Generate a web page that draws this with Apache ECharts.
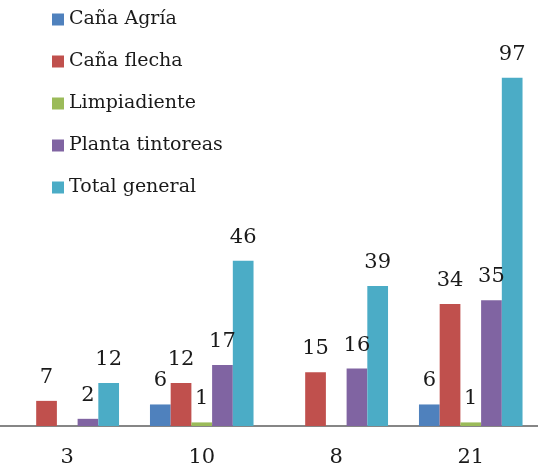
<!DOCTYPE html>
<html><head><meta charset="utf-8">
<script src="https://cdn.jsdelivr.net/npm/echarts@6/dist/echarts.min.js"></script>
<style>html,body{margin:0;padding:0;background:#fff}#c{width:538px;height:470px}</style>
</head><body><div id="c"></div>
<script>
const categories = ['3', '10', '8', '21'];
const canaAgria = [null, 6, null, 6];
const canaFlecha = [7, 12, 15, 34];
const limpiadiente = [null, 1, null, 1];
const plantaTintoreas = [2, 17, 16, 35];
const totalGeneral = [12, 46, 39, 97];
const seriesNames = ['Caña Agría', 'Caña flecha', 'Limpiadiente', 'Planta tintoreas', 'Total general'];
const seriesData = [canaAgria, canaFlecha, limpiadiente, plantaTintoreas, totalGeneral];
const colors = ['#4F81BD', '#C0504D', '#9BBB59', '#8064A2', '#4BACC6'];
const font = '"DejaVu Serif", serif';

const chart = echarts.init(document.getElementById('c'));
chart.setOption({
  animation: false,
  color: colors,
  legend: {
    orient: 'vertical', left: 47, top: 5,
    itemWidth: 12, itemHeight: 12, itemGap: 23,
    icon: 'rect',
    textStyle: { fontFamily: font, fontSize: 19, color: '#1a1a1a', padding: [0,0,0,0] },
    data: seriesNames
  },
  grid: { left: -3, right: -3, top: 67, bottom: 44 },
  xAxis: {
    type: 'category', data: categories,
    axisLine: { lineStyle: { color: '#868686', width: 2 } },
    axisTick: { length: 6, lineStyle: { color: '#868686' } },
    axisLabel: { fontFamily: font, fontSize: 21, color: '#1a1a1a', margin: 21 }
  },
  yAxis: { type: 'value', min: 0, max: 100, show: false, splitLine: { show: false } },
  series: seriesNames.map((n, i) => ({
    name: n, type: 'bar', data: seriesData[i],
    barGap: '0%', barCategoryGap: '23%',
    label: { show: true, position: 'top', distance: 13, fontFamily: font, fontSize: 21, color: '#1a1a1a' }
  }))
});
</script></body></html>
